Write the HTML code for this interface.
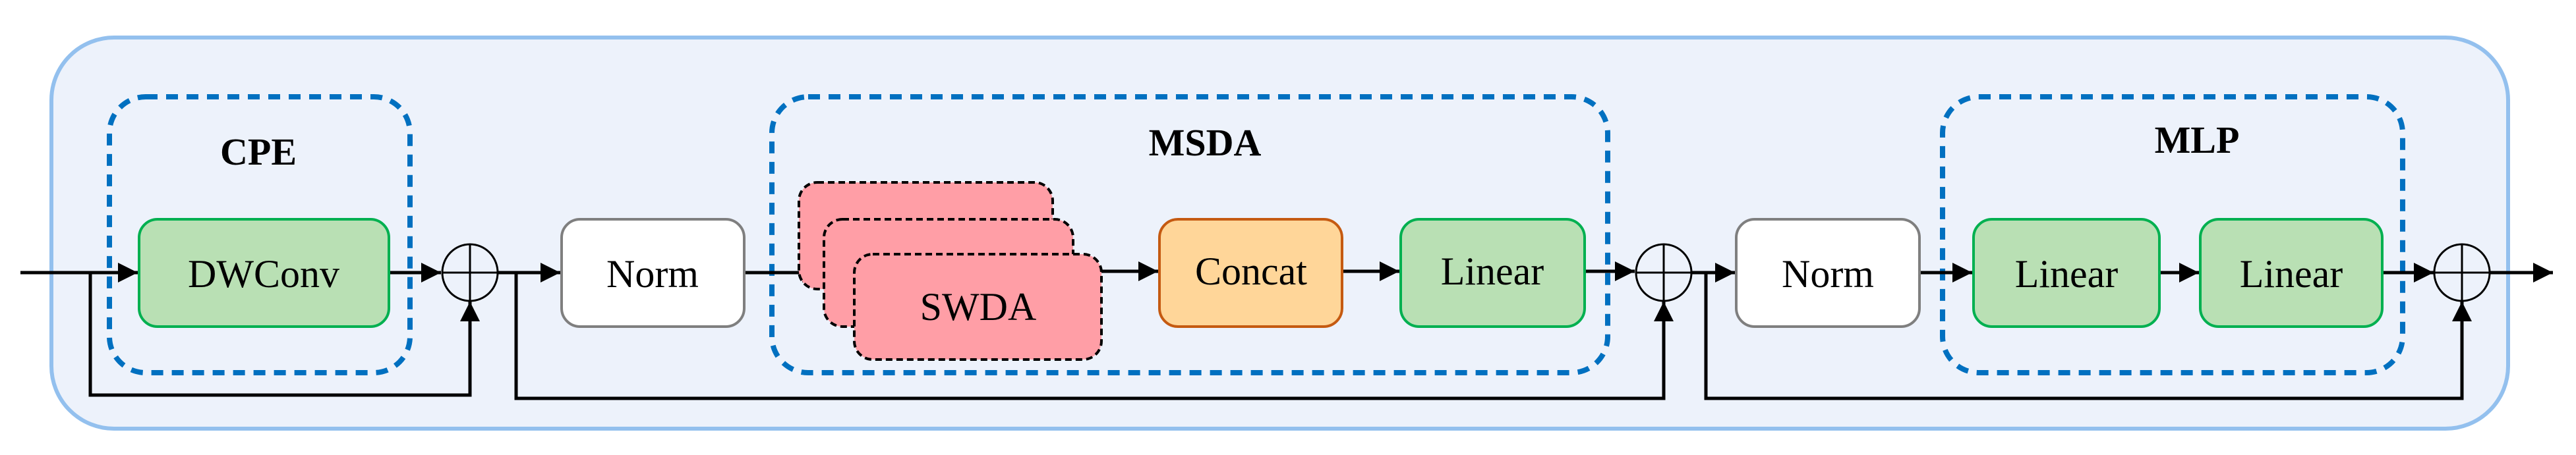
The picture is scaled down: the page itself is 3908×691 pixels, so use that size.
<!DOCTYPE html>
<html><head><meta charset="utf-8"><style>
html,body{margin:0;padding:0;background:#fff;}
svg{display:block;}
svg text{font-family:"Liberation Serif","Times New Roman",serif;}
</style></head><body>
<svg width="3908" height="691" viewBox="0 0 3908 691" xmlns="http://www.w3.org/2000/svg">
<defs>
<marker id="ar" viewBox="0 0 10 10" refX="10" refY="5" markerWidth="6" markerHeight="6" markerUnits="strokeWidth" orient="auto">
<path d="M0,0 L10,5 L0,10 z" fill="#000"/>
</marker>
</defs>
<rect x="78" y="57" width="3727" height="594" rx="95" fill="#EDF2FB" stroke="#93C0EE" stroke-width="6"/>
<g fill="none" stroke="#0070C0" stroke-width="8" stroke-dasharray="18 13">
<rect x="166" y="147" width="456" height="419" rx="55"/>
<rect x="1171" y="147" width="1268" height="419" rx="55"/>
<rect x="2947" y="147" width="698" height="419" rx="55"/>
</g>
<g font-family="Liberation Serif, serif" font-weight="bold" font-size="58" text-anchor="middle">
<text x="392" y="250" font-family="Liberation Serif, serif">CPE</text>
<text x="1828" y="236" font-family="Liberation Serif, serif">MSDA</text>
<text x="3333" y="232" font-family="Liberation Serif, serif">MLP</text>
</g>
<g stroke="#000" stroke-width="5" fill="none">
<line x1="31" y1="414" x2="209" y2="414" marker-end="url(#ar)"/>
<line x1="590" y1="414" x2="669" y2="414" marker-end="url(#ar)"/>
<line x1="756" y1="414" x2="850" y2="414" marker-end="url(#ar)"/>
<line x1="1129" y1="414" x2="1247" y2="414" marker-end="url(#ar)"/>
<line x1="1671" y1="412" x2="1757" y2="412" marker-end="url(#ar)"/>
<line x1="2036" y1="412" x2="2123" y2="412" marker-end="url(#ar)"/>
<line x1="2404" y1="412" x2="2480" y2="412" marker-end="url(#ar)"/>
<line x1="2566" y1="414" x2="2632" y2="414" marker-end="url(#ar)"/>
<line x1="2912" y1="414" x2="2992" y2="414" marker-end="url(#ar)"/>
<line x1="3276" y1="414" x2="3336" y2="414" marker-end="url(#ar)"/>
<line x1="3614" y1="414" x2="3692" y2="414" marker-end="url(#ar)"/>
<line x1="3776" y1="414" x2="3873" y2="414" marker-end="url(#ar)"/>
<polyline points="137,414 137,600 713,600 713,458" marker-end="url(#ar)"/>
<polyline points="783,414 783,605 2524,605 2524,458" marker-end="url(#ar)"/>
<polyline points="2588,414 2588,605 3735,605 3735,458" marker-end="url(#ar)"/>
</g>
<g fill="none" stroke="#000" stroke-width="3">
<ellipse cx="713" cy="414" rx="42" ry="43"/><line x1="671" y1="414" x2="755" y2="414"/><line x1="713" y1="371" x2="713" y2="457"/>
<ellipse cx="2524" cy="414" rx="42" ry="43"/><line x1="2482" y1="414" x2="2566" y2="414"/><line x1="2524" y1="371" x2="2524" y2="457"/>
<ellipse cx="3735" cy="414" rx="42" ry="43"/><line x1="3693" y1="414" x2="3777" y2="414"/><line x1="3735" y1="371" x2="3735" y2="457"/>
</g>
<rect x="211" y="333" width="379" height="163" rx="28" fill="#B9E0B4" stroke="#00B050" stroke-width="4"/>
<rect x="852" y="333" width="277" height="163" rx="28" fill="#fff" stroke="#7F7F7F" stroke-width="4"/>
<g fill="#FF9EA6" stroke="#000" stroke-width="4" stroke-dasharray="10 6">
<rect x="1212" y="277" width="385" height="162" rx="28"/>
<rect x="1250" y="333" width="378" height="163" rx="28"/>
<rect x="1296" y="386" width="375" height="160" rx="28"/>
</g>
<rect x="1759" y="333" width="277" height="163" rx="28" fill="#FFD699" stroke="#C55A11" stroke-width="4"/>
<rect x="2125" y="333" width="279" height="163" rx="28" fill="#B9E0B4" stroke="#00B050" stroke-width="4"/>
<rect x="2634" y="333" width="278" height="163" rx="28" fill="#fff" stroke="#7F7F7F" stroke-width="4"/>
<rect x="2994" y="333" width="282" height="163" rx="28" fill="#B9E0B4" stroke="#00B050" stroke-width="4"/>
<rect x="3338" y="333" width="276" height="163" rx="28" fill="#B9E0B4" stroke="#00B050" stroke-width="4"/>
<g font-family="Liberation Serif, serif" font-size="60" text-anchor="middle">
<text x="400" y="436" font-family="Liberation Serif, serif">DWConv</text>
<text x="990" y="436" font-family="Liberation Serif, serif">Norm</text>
<text x="1484" y="486" font-family="Liberation Serif, serif">SWDA</text>
<text x="1898" y="432" font-family="Liberation Serif, serif">Concat</text>
<text x="2264" y="432" font-family="Liberation Serif, serif">Linear</text>
<text x="2773" y="436" font-family="Liberation Serif, serif">Norm</text>
<text x="3135" y="436" font-family="Liberation Serif, serif">Linear</text>
<text x="3476" y="436" font-family="Liberation Serif, serif">Linear</text>
</g>
</svg>
</body></html>
